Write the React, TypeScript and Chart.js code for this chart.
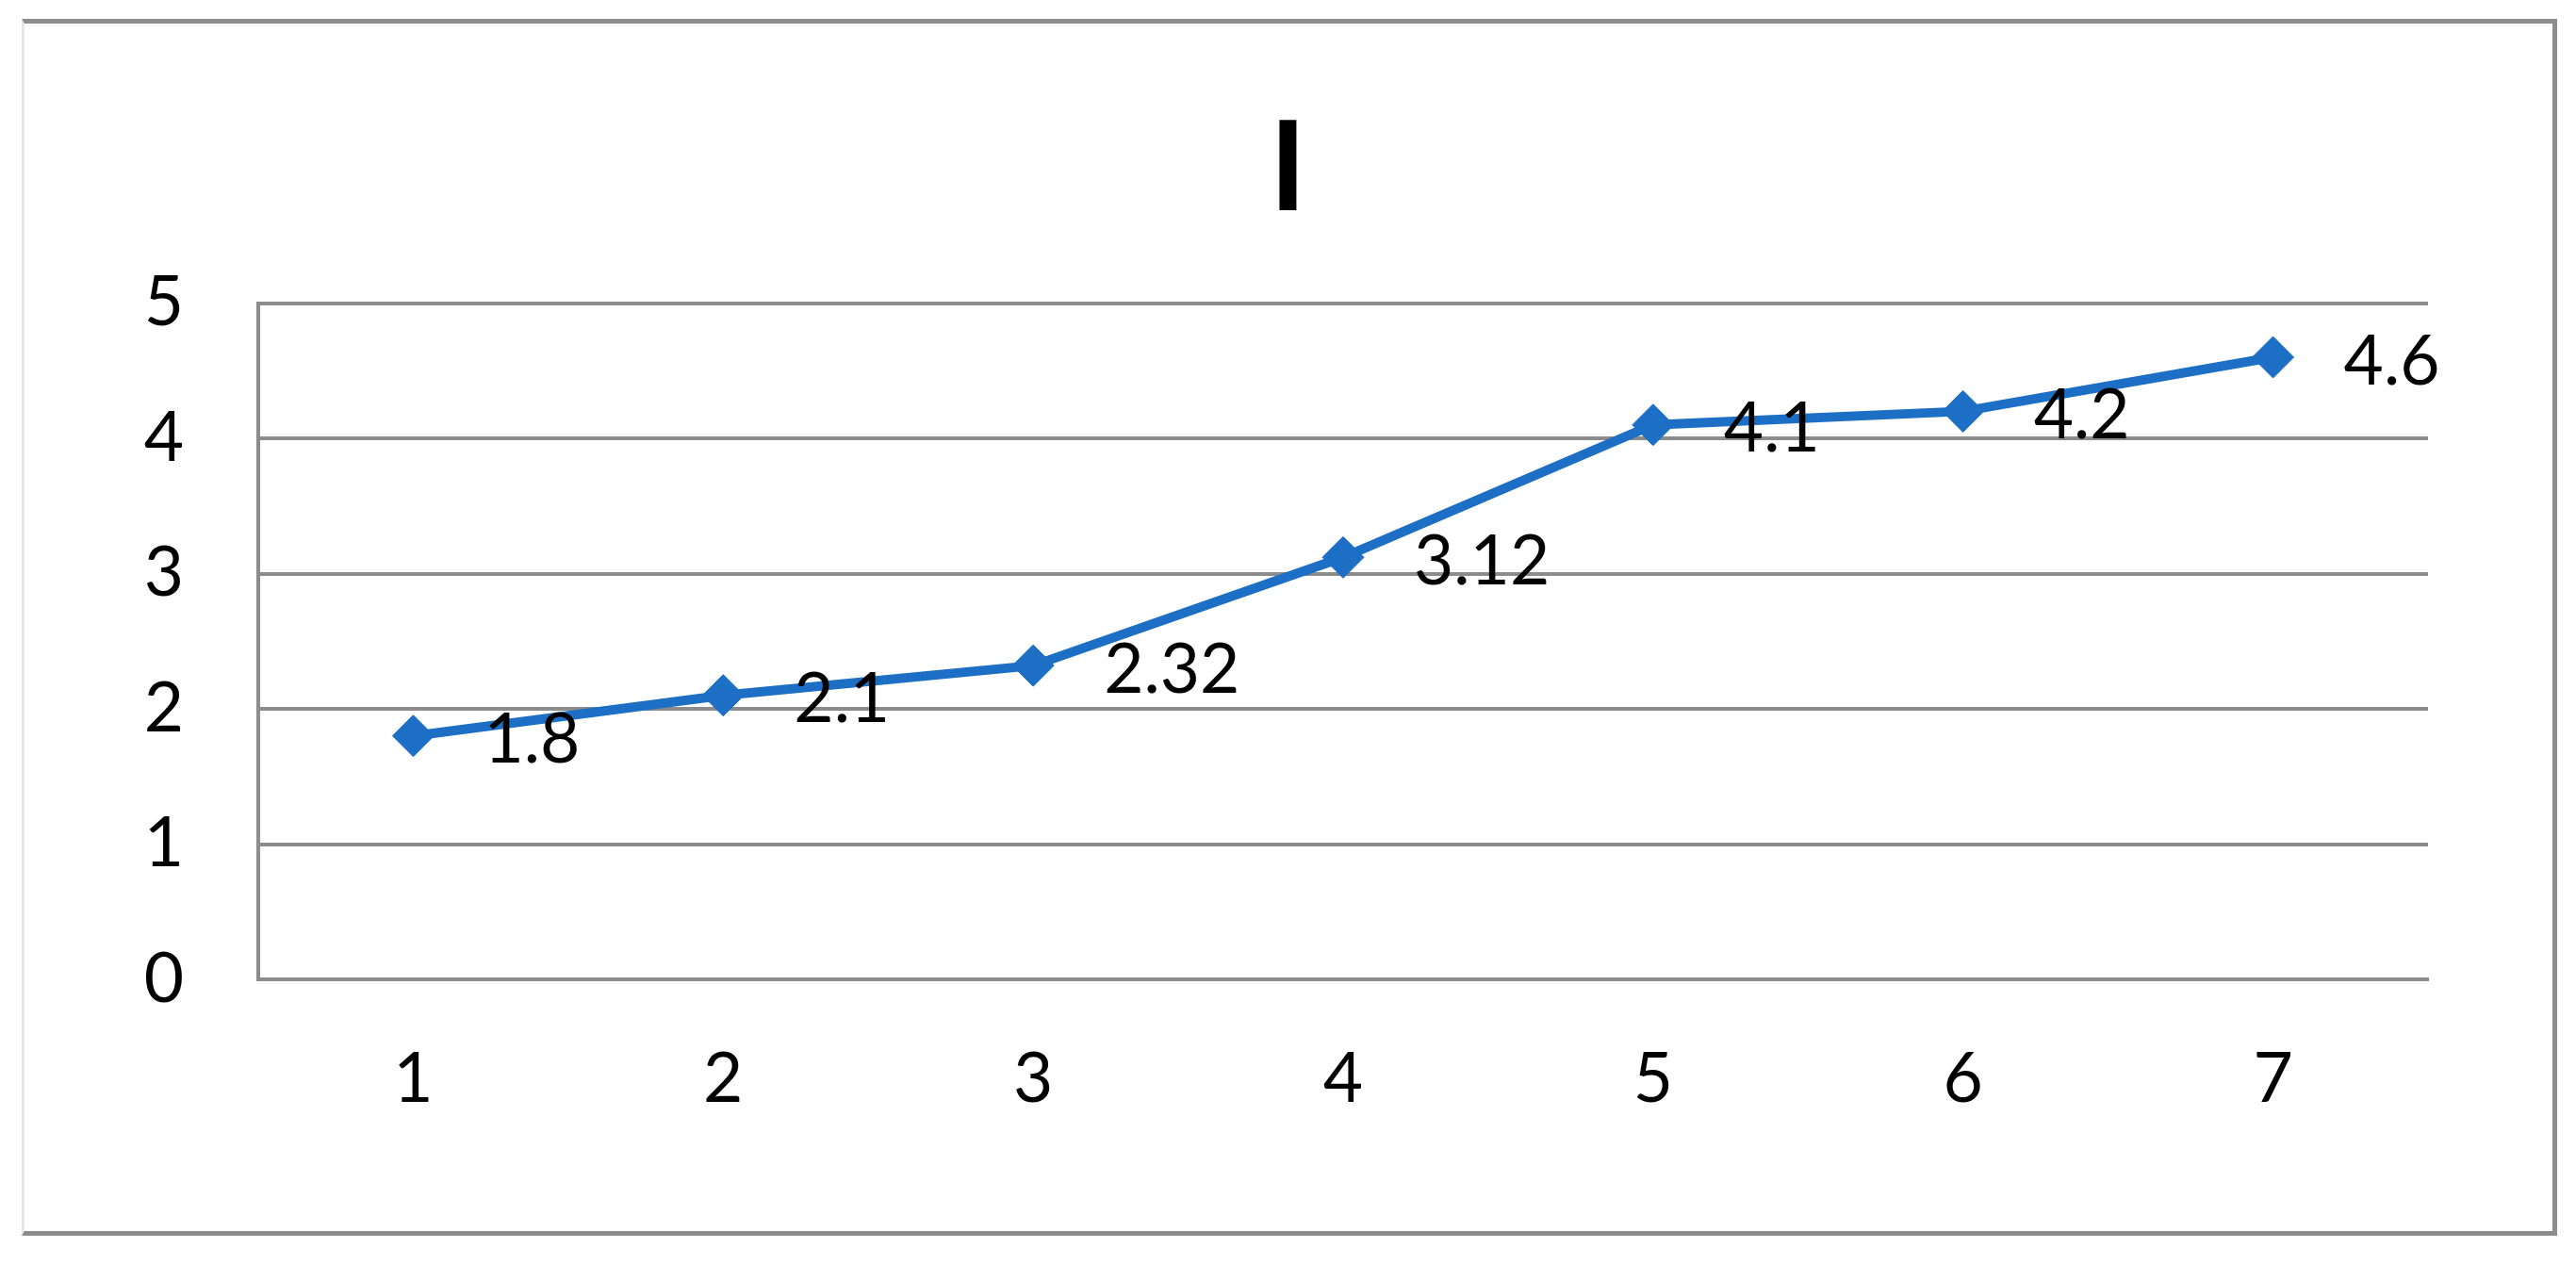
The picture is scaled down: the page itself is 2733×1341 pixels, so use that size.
import React, { useEffect, useRef } from "react";
import { Chart, registerables } from "chart.js";

Chart.register(...registerables);

const categories: string[] = ["1", "2", "3", "4", "5", "6", "7"];
const values: number[] = [1.8, 2.1, 2.32, 3.12, 4.1, 4.2, 4.6];
const yTicks: number[] = [0, 1, 2, 3, 4, 5];
const titleText = "I";

const W = 2733;
const H = 1341;
const FONT = "Lato, 'Open Sans', 'Liberation Sans', sans-serif";
const BLUE = "#1c6fc4";
const GRID = "#8c8c8c";

const dataLabelPlugin = {
  id: "pointValueLabels",
  afterDatasetsDraw(chart: any) {
    const ctx = chart.ctx;
    const meta = chart.getDatasetMeta(0);
    const ds = chart.data.datasets[0];
    ctx.save();
    ctx.font = `73px ${FONT}`;
    ctx.fillStyle = "#000000";
    ctx.textAlign = "left";
    ctx.textBaseline = "middle";
    meta.data.forEach((pt: any, i: number) => {
      ctx.fillText(String(ds.data[i]), pt.x + 75, pt.y + 5);
    });
    ctx.restore();
  },
};

export default function App() {
  const canvasRef = useRef<HTMLCanvasElement | null>(null);

  useEffect(() => {
    let chart: Chart | null = null;
    let cancelled = false;
    const make = () => {
      if (cancelled || !canvasRef.current) return;
      chart = new Chart(canvasRef.current, {
        type: "line",
        data: {
          labels: categories,
          datasets: [
            {
              label: titleText,
              data: values,
              borderColor: BLUE,
              backgroundColor: BLUE,
              borderWidth: 10,
              tension: 0,
              pointStyle: "rectRot",
              pointRadius: 22,
              pointBorderWidth: 1,
              pointBackgroundColor: BLUE,
              pointBorderColor: BLUE,
              fill: false,
              yAxisID: "y",
            },
          ],
        },
        options: {
          animation: false,
          responsive: false,
          maintainAspectRatio: false,
          devicePixelRatio: 1,
          layout: { padding: { left: 100, right: 100, top: 0, bottom: 0 } },
          plugins: {
            legend: { display: false },
            tooltip: { enabled: false },
            title: {
              display: true,
              text: titleText,
              color: "#000000",
              font: { family: FONT, size: 133, weight: "bold", lineHeight: 1.2 },
              padding: { top: 100, bottom: 62 },
            },
          },
          scales: {
            x: {
              type: "category",
              offset: true,
              grid: { display: false, drawTicks: false },
              border: { display: true, color: GRID, width: 4 },
              ticks: {
                color: "#000000",
                font: { family: FONT, size: 73 },
                padding: 63,
                maxRotation: 0,
              },
              afterFit: (scale: any) => {
                scale.height = 302;
              },
            },
            y: {
              position: "left",
              min: 0,
              max: 5,
              grid: { display: true, color: GRID, lineWidth: 4, drawTicks: false },
              border: { display: true, color: GRID, width: 4 },
              ticks: {
                stepSize: 1,
                color: "#000000",
                font: { family: FONT, size: 73 },
                padding: 79,
                callback: (v: any) => (yTicks.includes(Number(v)) ? String(v) : ""),
              },
              afterFit: (scale: any) => {
                scale.width = 274 - 100;
              },
            },
            ySpacer: {
              position: "right",
              display: true,
              min: 0,
              max: 5,
              grid: { display: false, drawTicks: false },
              border: { display: false },
              ticks: { display: false },
              afterFit: (scale: any) => {
                scale.width = 2733 - 100 - 2576;
              },
            },
          },
        },
        plugins: [dataLabelPlugin],
      });
    };
    const fontsApi: any = (document as any).fonts;
    if (fontsApi && fontsApi.load) {
      Promise.all([
        fontsApi.load(`73px Lato`),
        fontsApi.load(`bold 133px Lato`),
      ])
        .catch(() => null)
        .then(make);
    } else {
      make();
    }
    return () => {
      cancelled = true;
      if (chart) chart.destroy();
    };
  }, []);

  return (
    <div
      style={{
        position: "absolute",
        left: 0,
        top: 0,
        width: W,
        height: H,
        background: "#ffffff",
      }}
    >
      <canvas
        ref={canvasRef}
        width={W}
        height={H}
        style={{ position: "absolute", left: 0, top: 0, width: W, height: H }}
      />
      <div
        style={{
          position: "absolute",
          left: 23,
          top: 20,
          width: 2713 - 23 - 3 - 5,
          height: 1311 - 20 - 5 - 5,
          borderTop: `5px solid ${GRID}`,
          borderRight: `5px solid ${GRID}`,
          borderBottom: `5px solid ${GRID}`,
          borderLeft: "3px solid #e6e6e6",
          pointerEvents: "none",
        }}
      />
    </div>
  );
}
